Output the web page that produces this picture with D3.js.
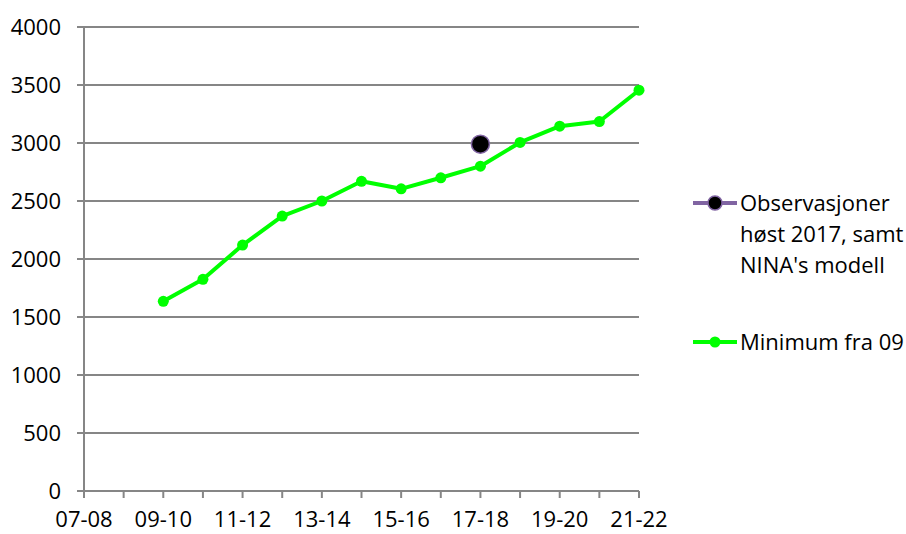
<!DOCTYPE html>
<html>
<head>
<meta charset="utf-8">
<script src="https://cdn.jsdelivr.net/npm/d3@7"></script>
<style>
  body { margin: 0; background: #fff; }
  text { font-family: "Open Sans", sans-serif; fill: #000; }
</style>
</head>
<body>
<svg id="chart" width="906" height="534"></svg>
<script>
// seasons on the x axis
var seasons = ["07-08","08-09","09-10","10-11","11-12","12-13","13-14","14-15",
               "15-16","16-17","17-18","18-19","19-20","20-21","21-22"];
// "Minimum fra 09" series, null where there is no value
var minimumValues = [null, null, 1635, 1825, 2120, 2370, 2500, 2670,
                     2605, 2700, 2800, 3005, 3145, 3185, 3455];
// single observation point
var obsSeason = "17-18";
var obsValue = 2990;
var yTicks = [0, 500, 1000, 1500, 2000, 2500, 3000, 3500, 4000];
var legendLabels = [["Observasjoner", "høst 2017, samt", "NINA's modell"], ["Minimum fra 09"]];

var svg = d3.select("#chart"),
    plotLeft = 84, plotRight = 639, plotTop = 27, plotBottom = 491;

var x = d3.scalePoint().domain(seasons).range([plotLeft, plotRight]);
var y = d3.scaleLinear().domain([0, 4000]).range([plotBottom, plotTop]);

// gridlines
svg.append("g")
  .selectAll("line")
  .data(yTicks)
  .enter().append("line")
  .attr("x1", plotLeft - 7).attr("x2", plotRight)
  .attr("y1", d => y(d)).attr("y2", d => y(d))
  .style("stroke", "#868686").style("stroke-width", 2);

// y axis line
svg.append("line")
  .attr("x1", plotLeft).attr("x2", plotLeft)
  .attr("y1", plotTop).attr("y2", plotBottom + 7)
  .style("stroke", "#868686").style("stroke-width", 2);

// x ticks
svg.append("g")
  .selectAll("line")
  .data(seasons)
  .enter().append("line")
  .attr("x1", d => x(d)).attr("x2", d => x(d))
  .attr("y1", plotBottom).attr("y2", plotBottom + 7)
  .style("stroke", "#868686").style("stroke-width", 2);

// y labels
svg.append("g")
  .selectAll("text")
  .data(yTicks)
  .enter().append("text")
  .attr("x", 61)
  .attr("y", d => y(d))
  .attr("dy", "0.36em")
  .attr("text-anchor", "end")
  .style("font-size", "22px")
  .text(d => d);

// x labels, every other season
svg.append("g")
  .selectAll("text")
  .data(seasons.filter((d, i) => i % 2 == 0))
  .enter().append("text")
  .attr("x", d => x(d))
  .attr("y", 527)
  .attr("text-anchor", "middle")
  .style("font-size", "22px")
  .text(d => d);

// green series
var pts = seasons.map((s, i) => ({s: s, v: minimumValues[i]}));
var line = d3.line()
  .defined(d => d.v != null)
  .x(d => x(d.s))
  .y(d => y(d.v));

svg.append("path")
  .datum(pts)
  .attr("d", line)
  .style("fill", "none")
  .style("stroke", "#00ff00")
  .style("stroke-width", 4)
  .style("stroke-linejoin", "round");

svg.append("g")
  .selectAll("circle")
  .data(pts.filter(d => d.v != null))
  .enter().append("circle")
  .attr("cx", d => x(d.s))
  .attr("cy", d => y(d.v))
  .attr("r", 5.5)
  .style("fill", "#00ff00");

// observation point
svg.append("circle")
  .attr("cx", x(obsSeason))
  .attr("cy", y(obsValue))
  .attr("r", 9)
  .style("fill", "#000")
  .style("stroke", "#8064a2")
  .style("stroke-width", 1.5);

// legend
var lg = svg.append("g");
lg.append("line")
  .attr("x1", 693).attr("x2", 737).attr("y1", 203).attr("y2", 203)
  .style("stroke", "#8064a2").style("stroke-width", 4);
lg.append("circle")
  .attr("cx", 715).attr("cy", 203).attr("r", 7)
  .style("fill", "#000").style("stroke", "#8064a2").style("stroke-width", 1.5);
lg.append("text")
  .attr("x", 740).attr("y", 203)
  .style("font-size", "22px")
  .selectAll("tspan")
  .data(legendLabels[0])
  .enter().append("tspan")
  .attr("x", 740)
  .attr("dy", (d, i) => i == 0 ? "0.36em" : "31px")
  .text(d => d);

lg.append("line")
  .attr("x1", 693).attr("x2", 737).attr("y1", 342).attr("y2", 342)
  .style("stroke", "#00ff00").style("stroke-width", 4);
lg.append("circle")
  .attr("cx", 715).attr("cy", 342).attr("r", 5.5)
  .style("fill", "#00ff00");
lg.append("text")
  .attr("x", 740).attr("y", 342).attr("dy", "0.36em")
  .style("font-size", "22px")
  .text(legendLabels[1][0]);
</script>
</body>
</html>
